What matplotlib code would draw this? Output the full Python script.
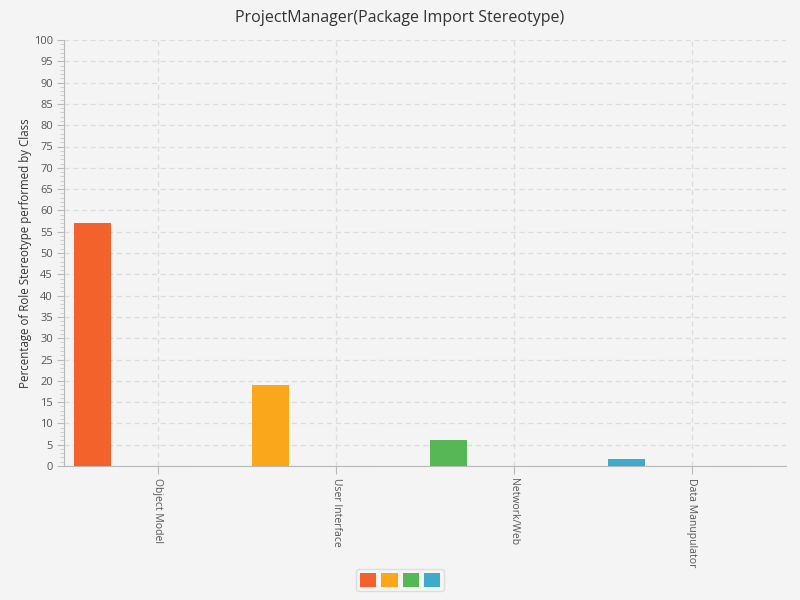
import matplotlib.pyplot as plt
from matplotlib.patches import Patch

categories = ['Object Model', 'User Interface', 'Network/Web', 'Data Manupulator']
values = [57, 19, 6, 1.6]
colors = ['#f3622d', '#fba71b', '#57b757', '#41a9c9']

plt.rcParams['font.family'] = ['Open Sans', 'DejaVu Sans']

fig = plt.figure(figsize=(8, 6), dpi=100, facecolor='#f4f4f4')
# plot area in pixels: x 64..786, y 40..466
ax = fig.add_axes([64 / 800, 1 - 466 / 600, 722 / 800, 426 / 600])
ax.set_facecolor('#f4f4f4')

# JavaFX-style category layout: bars sit in the first of four series slots
margin = 5 / 178
bar_w = 37 / 178
offset = -84 / 178
xs = list(range(len(categories)))
ax.bar([x + offset for x in xs], values, width=bar_w, align='edge', color=colors, zorder=3)

ax.set_xlim(-0.5 - margin, len(categories) - 0.5 + margin)
ax.set_ylim(0, 100)

ax.set_yticks(range(0, 101, 5))
ax.set_yticks(range(0, 101, 1), minor=True)
ax.set_xticks(xs)
ax.set_xticklabels(categories, rotation=-90, va='top', ha='center')

ax.tick_params(axis='y', which='major', length=5, color='#b8b8b8', labelsize=8, labelcolor='#555555', pad=3)
ax.tick_params(axis='y', which='minor', length=3, color='#c8c8c8')
ax.tick_params(axis='x', length=6, color='#b8b8b8', labelsize=7.5, labelcolor='#555555', pad=3)

ax.grid(True, which='major', linestyle=(0, (4, 3)), color='#dcdcdc', linewidth=0.9, zorder=0)

for side in ['top', 'right']:
    ax.spines[side].set_visible(False)
for side in ['left', 'bottom']:
    ax.spines[side].set_color('#b8b8b8')

ax.set_ylabel('Percentage of Role Stereotype performed by Class', fontsize=8.3, color='#333333')
ax.yaxis.set_label_coords(-32 / 722, 0.5)

fig.suptitle('ProjectManager(Package Import Stereotype)', fontsize=11.5, color='#333333', y=1 - 18 / 600, va='center')

handles = [Patch(facecolor=c, edgecolor='none') for c in colors]
leg = fig.legend(handles, [''] * len(colors), loc='center', bbox_to_anchor=(400 / 800, 1 - 580 / 600),
                 ncol=4, fontsize=8, handlelength=1.45, handleheight=1.45, handletextpad=0,
                 columnspacing=0.45, borderpad=0.35, frameon=True, fancybox=True)
leg.get_frame().set_facecolor('#f6f6f6')
leg.get_frame().set_edgecolor('#d8d8d8')

fig.savefig('out.png', dpi=100, facecolor=fig.get_facecolor())
